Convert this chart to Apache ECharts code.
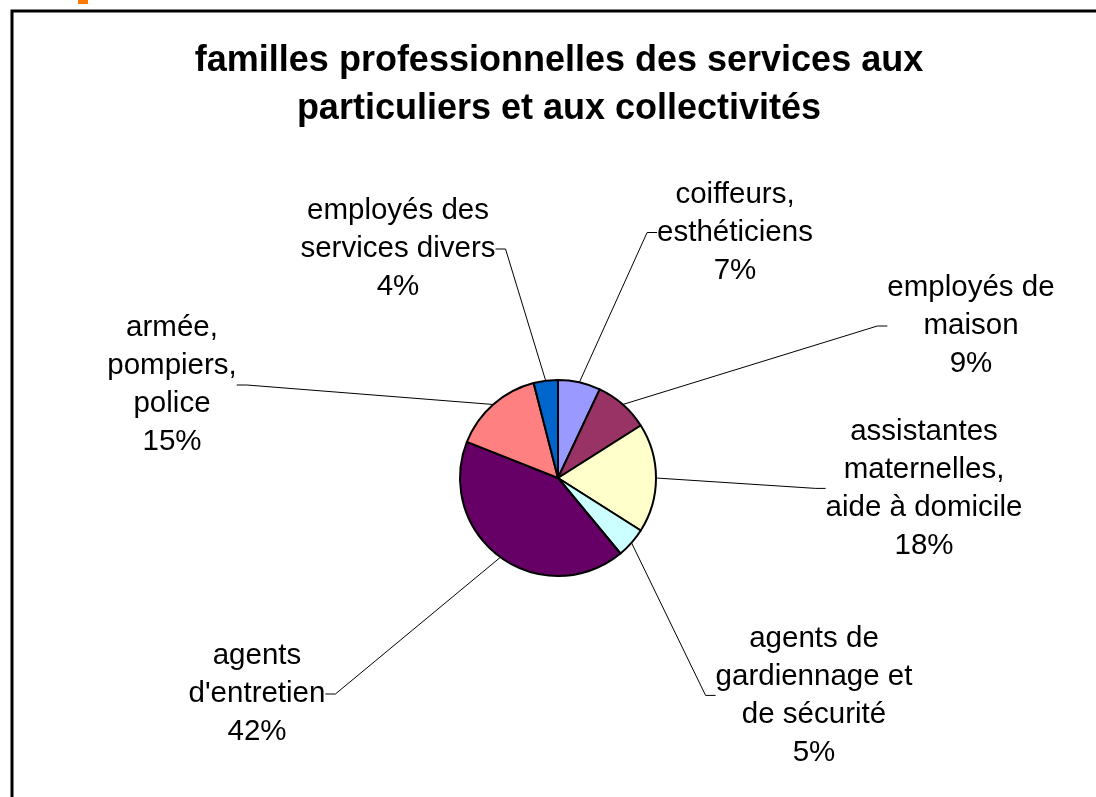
<!DOCTYPE html>
<html>
<head>
<meta charset="utf-8">
<script src="https://cdn.jsdelivr.net/npm/echarts@6/dist/echarts.min.js"></script>
<style>
html,body{margin:0;padding:0;background:#fff;}
#chart{width:1096px;height:797px;}
</style>
</head>
<body>
<div id="chart"></div>
<script>
// ---- data ----
const categories = [
  "coiffeurs,\nesthéticiens",
  "employés de\nmaison",
  "assistantes\nmaternelles,\naide à domicile",
  "agents de\ngardiennage et\nde sécurité",
  "agents\nd'entretien",
  "armée,\npompiers,\npolice",
  "employés des\nservices divers"
];
const shares = [7, 9, 18, 5, 42, 15, 4];
const titleLines = ["familles professionnelles des services aux", "particuliers et aux collectivités"];

// ---- styling / layout (not data) ----
const sliceColors = ["#9999FF", "#993366", "#FFFFCC", "#CCFFFF", "#660066", "#FF8080", "#0066CC"];
const labelAnchors = [
  [735, 232.5], [971, 326], [924, 488.4], [814, 695.4], [257, 694], [172, 385], [398, 249]
];

const chart = echarts.init(document.getElementById('chart'), null, {renderer: 'canvas'});
const FONT = "'Liberation Sans', Arial, sans-serif";

chart.setOption({
  animation: false,
  backgroundColor: '#ffffff',
  graphic: [
    { type: 'rect', shape: {x: 12, y: 11, width: 1200, height: 900},
      style: {fill: 'none', stroke: '#000', lineWidth: 3} },
    { type: 'rect', shape: {x: 78, y: 0, width: 10, height: 4},
      style: {fill: '#FF7A00'} },
    { type: 'text', x: 559, y: 84.8,
      style: { text: titleLines.join('\n'), align: 'center', verticalAlign: 'middle',
               font: "bold 36px " + FONT, lineHeight: 48, fill: '#000' } }
  ],
  series: [{
    type: 'pie',
    center: [558, 478],
    radius: 98,
    startAngle: 90,
    clockwise: true,
    avoidLabelOverlap: false,
    data: categories.map((c, i) => ({ name: c, value: shares[i], itemStyle: { color: sliceColors[i] } })),
    itemStyle: { borderColor: '#000', borderWidth: 2 },
    emphasis: { disabled: true },
    label: {
      show: true,
      position: 'outside',
      formatter: '{b}\n{c}%',
      fontFamily: FONT,
      fontSize: 29.5,
      lineHeight: 38,
      color: '#000',
      align: 'center'
    },
    labelLine: { show: true, length: 10, length2: 10, lineStyle: { color: '#000', width: 1 } },
    labelLayout: function (p) {
      const a = labelAnchors[p.dataIndex];
      return { x: a[0], y: a[1], align: 'center', verticalAlign: 'middle' };
    }
  }]
});
</script>
</body>
</html>
